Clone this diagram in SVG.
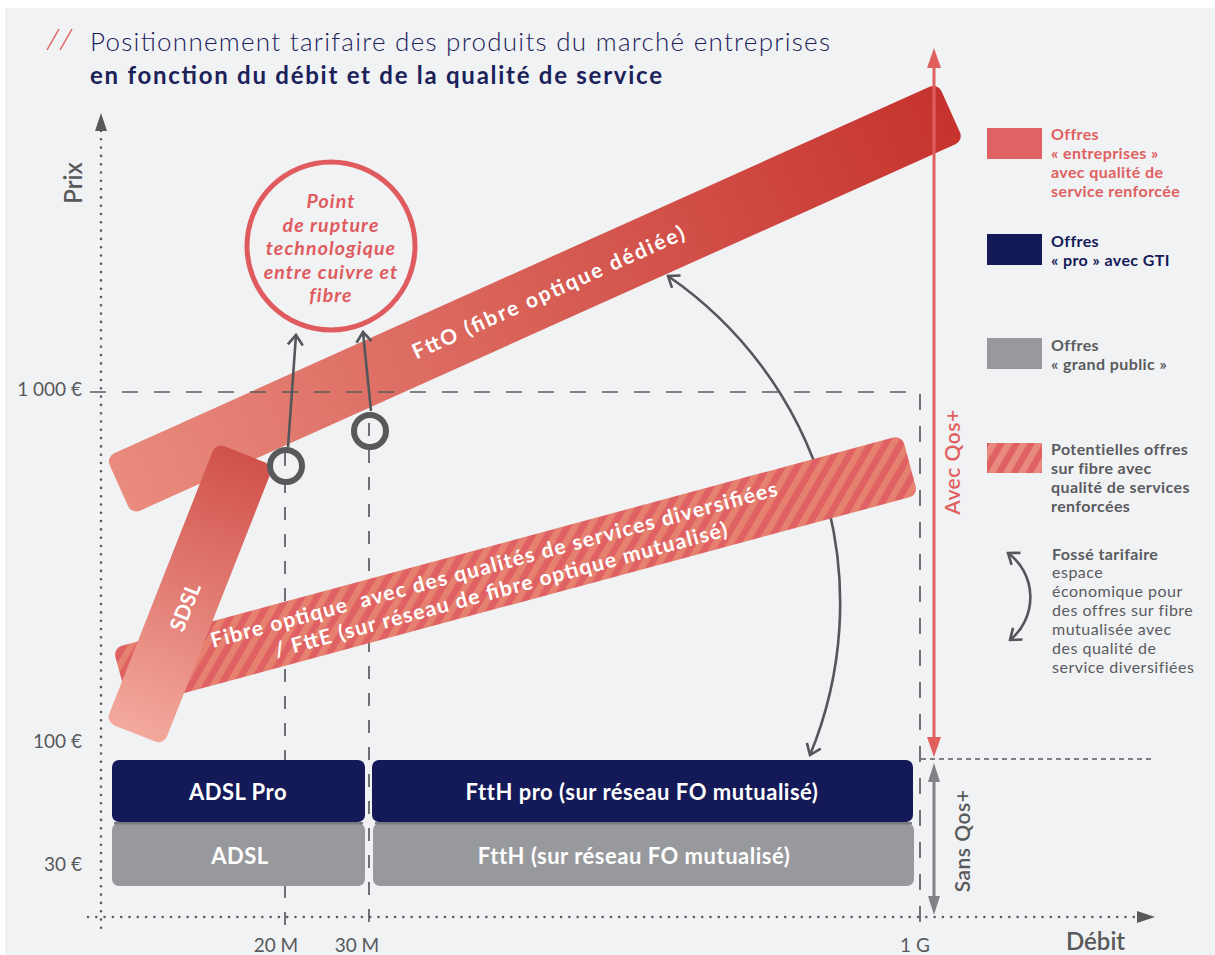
<svg xmlns="http://www.w3.org/2000/svg" width="1215" height="955" viewBox="0 0 1215 955">
<defs>
<style>
text{font-family:Lato,"Noto Sans","Liberation Sans",sans-serif}
.lbl{font-size:19px;fill:#58595b}
.box{font-size:22px;fill:#fff;font-weight:700;text-anchor:middle;letter-spacing:0.5px}
.band{font-size:21px;fill:#fff;font-weight:700;text-anchor:middle}
.leg{font-size:16px;font-weight:700;letter-spacing:0.4px}
.legr{font-size:16px;fill:#5a5b5e;letter-spacing:0.5px}
.dash{stroke:#5a5b5e;stroke-width:1.7;fill:none;stroke-dasharray:16 16}
.vdash{stroke:#5a5b5e;stroke-width:1.7;fill:none;stroke-dasharray:13 14}
.dot{stroke:#5a5b5e;stroke-width:2.6;stroke-linecap:round;stroke-dasharray:0 8.3;fill:none}
.arr{stroke:#555659;stroke-width:2.6;fill:none;marker-end:url(#chev)}
.ring{fill:none;stroke:#58595b;stroke-width:6}
</style>
<linearGradient id="gFtto" x1="0" y1="0" x2="1" y2="0">
<stop offset="0" stop-color="#e98b7e"/>
<stop offset="1" stop-color="#c6332e"/>
</linearGradient>
<linearGradient id="gSdsl" x1="0" y1="0" x2="1" y2="0">
<stop offset="0" stop-color="#f4a99d"/>
<stop offset="1" stop-color="#d0514a"/>
</linearGradient>
<pattern id="stripeL" width="13" height="13" patternUnits="userSpaceOnUse" patternTransform="rotate(30)">
<rect width="13" height="13" fill="#e06163"/>
<rect width="6.5" height="13" fill="#e98a7e"/>
</pattern>
<pattern id="stripeB" width="13" height="13" patternUnits="userSpaceOnUse" patternTransform="rotate(45.1)">
<rect width="13" height="13" fill="#e06163"/>
<rect width="6.5" height="13" fill="#e6806f"/>
</pattern>
<marker id="chev" viewBox="-13 -9 15 18" markerWidth="15" markerHeight="18" refX="0" refY="0" orient="auto-start-reverse" markerUnits="userSpaceOnUse">
<path d="M-10 -7.5 L0 0 L-10 7.5" fill="none" stroke="#555659" stroke-width="2.6"/>
</marker>
</defs>

<rect x="0" y="0" width="1215" height="955" fill="#ffffff"/>
<rect x="5" y="8" width="1210" height="947" fill="#f1f2f4"/>

<g id="title">
<line x1="47" y1="50" x2="59" y2="29" stroke="#e0605f" stroke-width="1.5"/>
<line x1="60" y1="50" x2="72" y2="29" stroke="#e0605f" stroke-width="1.5"/>
<text x="90" y="51" font-size="26" font-weight="300" fill="#1b2159" textLength="740" lengthAdjust="spacing">Positionnement tarifaire des produits du marché entreprises</text>
<text x="90" y="84" font-size="24" font-weight="700" fill="#1b2159" textLength="572" lengthAdjust="spacing">en fonction du débit et de la qualité de service</text>
</g>

<g id="axes">
<path class="dot" d="M101 131 V935"/>
<polygon points="101,113 95,131 107,131" fill="#58595b"/>
<path class="dot" d="M88 917 H1137"/>
<polygon points="1155,917 1137,911 1137,923" fill="#58595b"/>
<text x="82" y="183" transform="rotate(-90 82 183)" font-size="24" fill="#58595b" font-weight="600" text-anchor="middle">Prix</text>
<text x="1066" y="950" font-size="24" fill="#58595b" font-weight="600">Débit</text>
<text class="lbl" x="82" y="396" text-anchor="end">1 000 €</text>
<text class="lbl" x="82" y="748" text-anchor="end">100 €</text>
<text class="lbl" x="82" y="871" text-anchor="end">30 €</text>
<text class="lbl" x="276" y="952" text-anchor="middle">20 M</text>
<text class="lbl" x="357" y="952" text-anchor="middle">30 M</text>
<text class="lbl" x="915" y="952" text-anchor="middle">1 G</text>
<path class="vdash" d="M285 453 V933"/>
<path class="vdash" d="M369 423 V933"/>
</g>

<g id="fttO">
<g transform="translate(534.8 298.7) rotate(-24.2)">
<rect x="-456" y="-31.5" width="912" height="63" rx="9" fill="url(#gFtto)"/>
<text class="band" x="15" y="7" font-size="22" textLength="296" lengthAdjust="spacing">FttO (fibre optique dédiée)</text>
</g>
</g>

<g id="connectors">
<path d="M668 276 A397 397 0 0 1 810 755" fill="none" stroke="#555659" stroke-width="2.6" marker-start="url(#chev)" marker-end="url(#chev)"/>
<path class="arr" d="M288 447 L296 335"/>
<path class="arr" d="M371 411 L363 332"/>
</g>

<g id="fibre-mutualisee">
<g transform="translate(515.5 571.5) rotate(-15.1)">
<rect x="-408.5" y="-31" width="817" height="62" rx="9" fill="url(#stripeB)"/>
<text class="band" x="-19" y="-5" textLength="586" lengthAdjust="spacing">Fibre optique&#160; avec des qualités de services diversifiées</text>
<text class="band" x="-19" y="21" textLength="468" lengthAdjust="spacing">/ FttE (sur réseau de fibre optique mutualisé)</text>
</g>
</g>

<g id="sdsl">
<g transform="translate(189.8 593.9) rotate(-68.5)">
<rect x="-150" y="-31" width="300" height="62" rx="9" fill="url(#gSdsl)"/>
<text class="band" x="-14" y="8" font-size="20">SDSL</text>
</g>
</g>

<g id="grid-1000">
<path class="dash" d="M90 392 H920 V933"/>
</g>

<g id="point-rupture">
<circle cx="331" cy="246" r="84" fill="none" stroke="#e05b5e" stroke-width="5"/>
<g font-size="19.5" font-style="italic" font-weight="700" fill="#e05b5e" text-anchor="middle" letter-spacing="1.1">
<text x="331" y="208">Point</text>
<text x="331" y="232">de rupture</text>
<text x="331" y="255">technologique</text>
<text x="331" y="279">entre cuivre et</text>
<text x="331" y="302">fibre</text>
</g>
</g>

<g id="rupture-20M"><circle class="ring" cx="286" cy="466" r="16"/></g>
<g id="rupture-30M"><circle class="ring" cx="370" cy="431" r="16"/></g>

<g id="adsl">
<rect x="112" y="823" width="253" height="63" rx="7" fill="#98999d"/>
<rect x="114" y="822" width="249" height="2.5" fill="#7a7b7f"/>
<text class="box" x="240" y="864">ADSL</text>
</g>
<g id="ftth">
<rect x="373" y="823" width="541" height="63" rx="7" fill="#98999d"/>
<rect x="375" y="822" width="537" height="2.5" fill="#7a7b7f"/>
<text class="box" x="634" y="864">FttH (sur réseau FO mutualisé)</text>
</g>
<g id="adsl-pro">
<rect x="112" y="760" width="253" height="62" rx="7" fill="#141a58"/>
<text class="box" x="238" y="800">ADSL Pro</text>
</g>
<g id="ftth-pro">
<rect x="372" y="760" width="541" height="62" rx="7" fill="#141a58"/>
<text class="box" x="642" y="800">FttH pro (sur réseau FO mutualisé)</text>
</g>

<g id="qos">
<line x1="934" y1="66" x2="934" y2="740" stroke="#e0605f" stroke-width="3"/>
<polygon points="934,48 927,68 941,68" fill="#e0605f"/>
<polygon points="934,757 927,737 941,737" fill="#e0605f"/>
<text x="960" y="462" transform="rotate(-90 960 462)" font-size="21" font-weight="600" fill="#e0605f" text-anchor="middle" letter-spacing="0.5">Avec Qos+</text>
<path d="M921 759 H1152" stroke="#5a5b5e" stroke-width="1.6" stroke-dasharray="5 4" fill="none"/>
<line x1="934" y1="780" x2="934" y2="898" stroke="#818285" stroke-width="3"/>
<polygon points="934,763 928,782 940,782" fill="#818285"/>
<polygon points="934,915 928,896 940,896" fill="#818285"/>
<text x="970" y="841" transform="rotate(-90 970 841)" font-size="21" font-weight="600" fill="#58595b" text-anchor="middle" letter-spacing="0.5">Sans Qos+</text>
</g>

<g id="legend-entreprises">
<rect x="987" y="128" width="55" height="31" fill="#e06264"/>
<g class="leg" fill="#e0605f">
<text x="1051" y="140">Offres</text>
<text x="1051" y="159">« entreprises »</text>
<text x="1051" y="178">avec qualité de</text>
<text x="1051" y="197">service renforcée</text>
</g>
</g>
<g id="legend-pro">
<rect x="987" y="234" width="55" height="31" fill="#141a58"/>
<g class="leg" fill="#141a58">
<text x="1051" y="247">Offres</text>
<text x="1051" y="266">« pro » avec GTI</text>
</g>
</g>
<g id="legend-grand-public">
<rect x="987" y="338" width="55" height="31" fill="#98999d"/>
<g class="leg" fill="#5a5b5e">
<text x="1051" y="351">Offres</text>
<text x="1051" y="370">« grand public »</text>
</g>
</g>
<g id="legend-potentielles">
<rect x="987" y="443" width="55" height="30" fill="url(#stripeL)"/>
<g class="leg" fill="#5a5b5e">
<text x="1051" y="455">Potentielles offres</text>
<text x="1051" y="474">sur fibre avec</text>
<text x="1051" y="493">qualité de services</text>
<text x="1051" y="512">renforcées</text>
</g>
</g>
<g id="legend-fosse">
<path d="M1008 553 A55 55 0 0 1 1010 640" fill="none" stroke="#555659" stroke-width="2.6" marker-start="url(#chev)" marker-end="url(#chev)"/>
<text class="leg" x="1052" y="560" fill="#5a5b5e">Fossé tarifaire</text>
<g class="legr">
<text x="1052" y="578">espace</text>
<text x="1052" y="597">économique pour</text>
<text x="1052" y="616">des offres sur fibre</text>
<text x="1052" y="635">mutualisée avec</text>
<text x="1052" y="654">des qualité de</text>
<text x="1052" y="673">service diversifiées</text>
</g>
</g>
</svg>
